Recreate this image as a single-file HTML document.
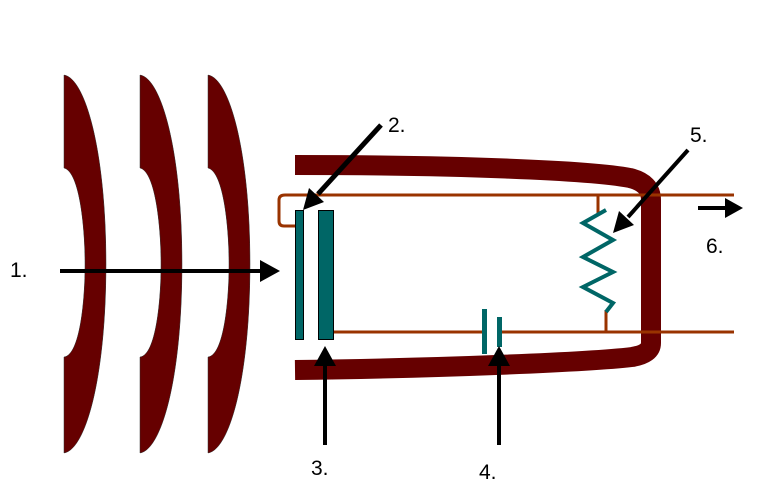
<!DOCTYPE html>
<html><head><meta charset="utf-8"><style>
html,body{margin:0;padding:0;background:#fff;}
svg{display:block;}
text{font-family:"Liberation Sans",sans-serif;font-size:21px;fill:#000;}
</style></head><body>
<svg width="773" height="498" viewBox="0 0 773 498" xmlns="http://www.w3.org/2000/svg">
<!-- lenses -->
<g fill="#660000" stroke="#333" stroke-width="0.5">
<path d="M64,75 C85,78 106,150 106,264 C106,380 85,450 64,453 L64,357 C80,355 85,300 85,264 C85,230 80,172 64,168 Z"/>
<path d="M140,75 C161,78 182,150 182,264 C182,380 161,450 140,453 L140,357 C156,355 161,300 161,264 C161,230 156,172 140,168 Z"/>
<path d="M208,75 C229,78 250,150 250,264 C250,380 229,450 208,453 L208,357 C224,355 229,300 229,264 C229,230 224,172 208,168 Z"/>
</g>
<!-- tube -->
<path d="M295,165 C450,165 590,170 630,178 Q651,183 651,200 L651,343 Q651,354 632,357 C590,362 450,368 295,370" fill="none" stroke="#660000" stroke-width="20"/>
<!-- wires -->
<g fill="none" stroke="#993300" stroke-width="3">
<path d="M295,226 L284,226 Q279,226 279,221 L279,200 Q279,195 285,195 L734,195"/>
<path d="M333,332 L483,332 M500,332 L734,332"/>
<path d="M598,195 L598,215 M606,310 L606,332"/>
</g>
<!-- resistor -->
<polyline points="606,210 583,223 613,240 583,257 613,272 583,287 613,303 606,312" fill="none" stroke="#006666" stroke-width="4"/>
<!-- battery -->
<rect x="482" y="309" width="5" height="45" fill="#006666"/>
<rect x="497" y="317" width="5" height="30" fill="#006666"/>
<!-- plates -->
<rect x="295.5" y="210.5" width="8" height="129" fill="#006666" stroke="#000" stroke-width="1"/>
<rect x="318.5" y="210.5" width="15" height="129" fill="#006666" stroke="#000" stroke-width="1"/>
<!-- arrows -->
<g stroke="#000" stroke-width="4" fill="none">
<line x1="60" y1="271" x2="262" y2="271"/>
<line x1="381" y1="125" x2="318" y2="194" stroke-width="5"/>
<line x1="325" y1="445" x2="325" y2="363"/>
<line x1="499" y1="445" x2="499" y2="363"/>
<line x1="688" y1="150" x2="628" y2="217"/>
<line x1="698" y1="208" x2="727" y2="208"/>
</g>
<g fill="#000">
<polygon points="280,271 260,260 260,282"/>
<polygon points="303,210 324,202 309,188"/>
<polygon points="325,346 314,366 336,366"/>
<polygon points="499,346 488,366 510,366"/>
<polygon points="613,233 634,225 619,211"/>
<polygon points="743,208 725,198 725,218"/>
</g>
<!-- labels -->
<text x="10" y="277">1.</text>
<text x="388" y="132">2.</text>
<text x="311" y="475">3.</text>
<text x="479" y="479">4.</text>
<text x="690" y="142">5.</text>
<text x="706" y="253">6.</text>
</svg>
</body></html>
